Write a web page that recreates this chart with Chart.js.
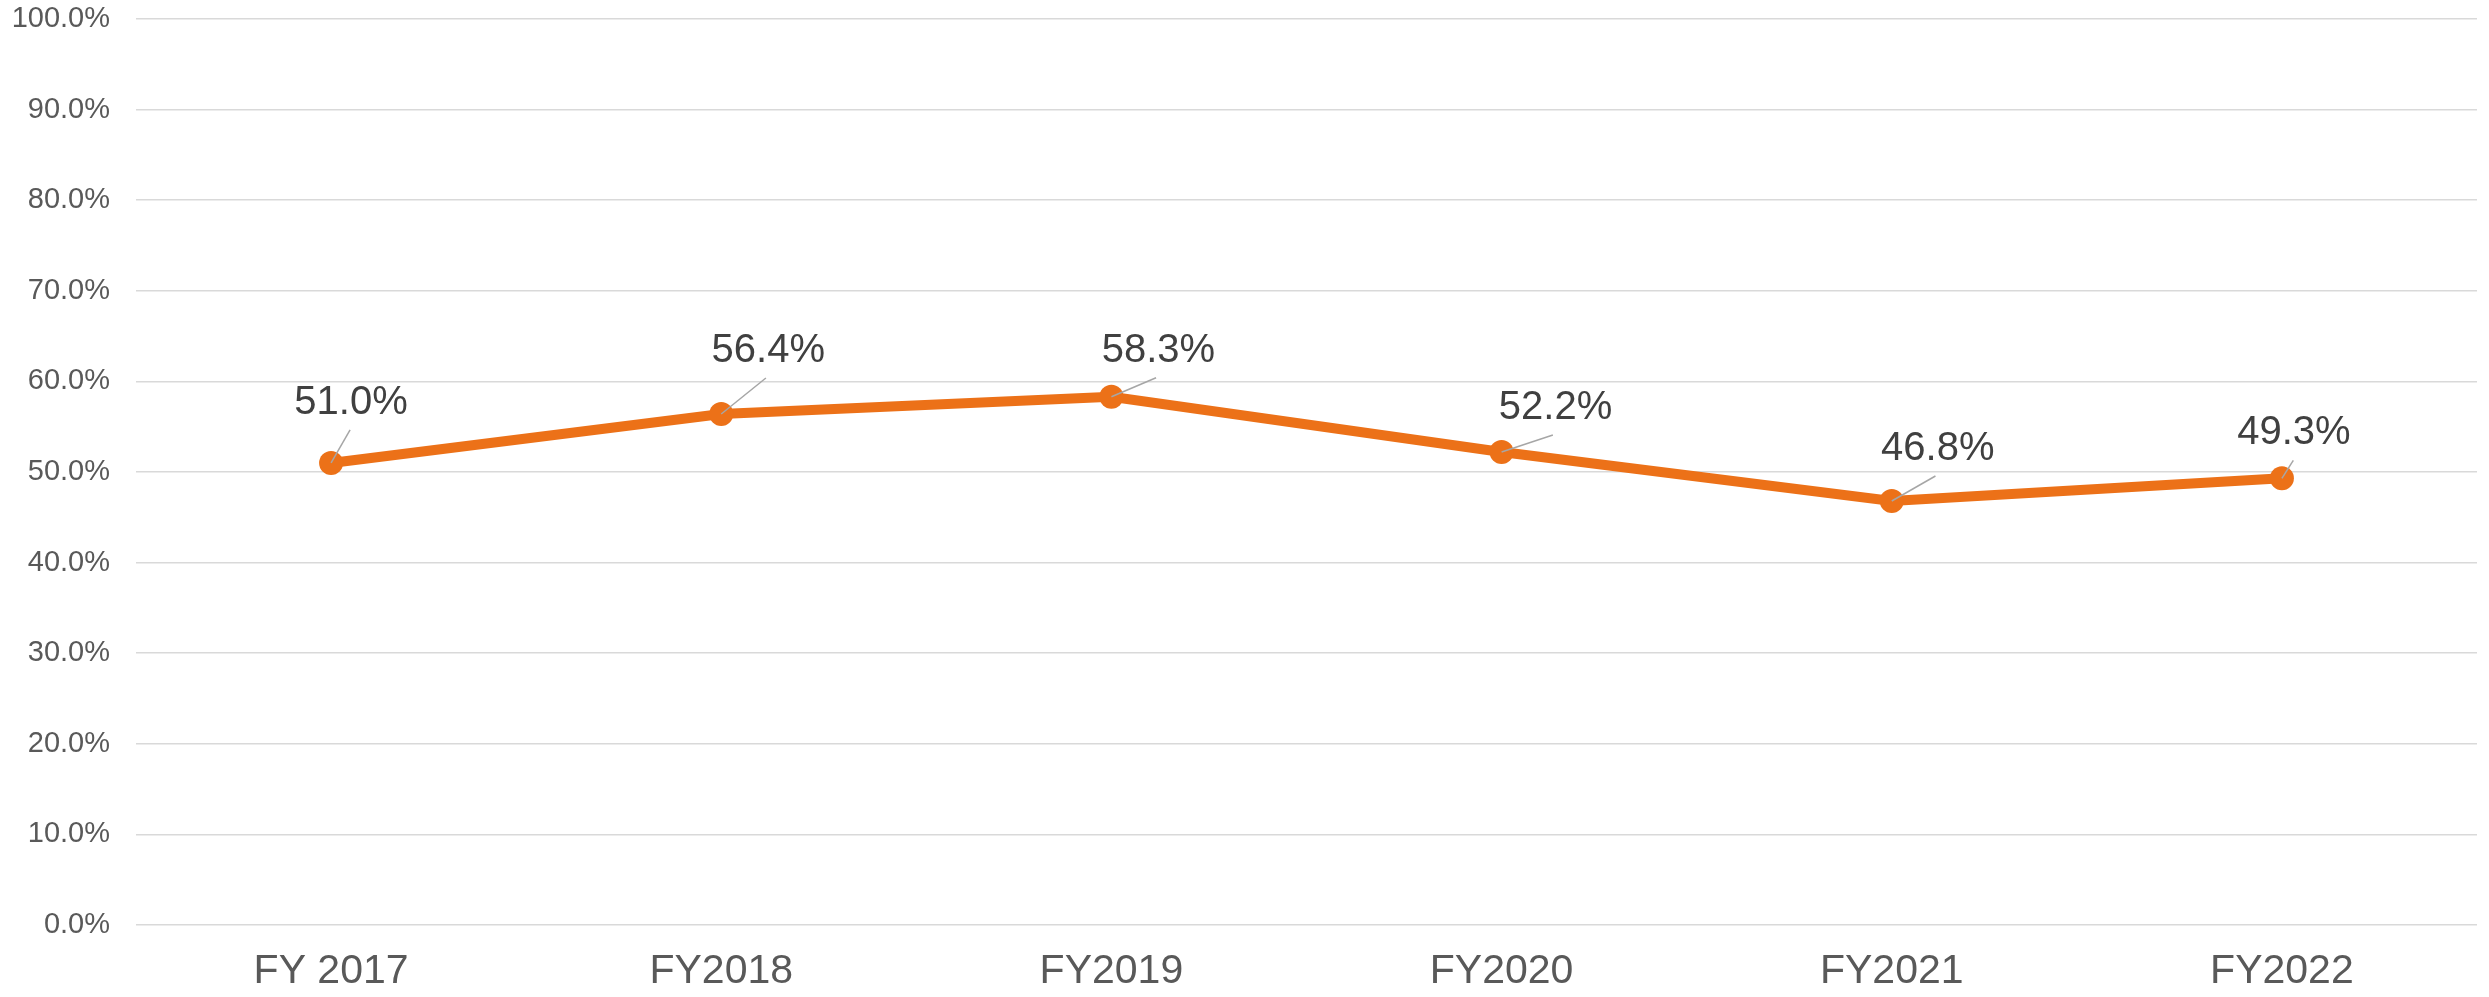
<!DOCTYPE html>
<html>
<head>
<meta charset="utf-8">
<script src="https://cdn.jsdelivr.net/npm/chart.js@4/dist/chart.umd.min.js"></script>
<style>
  html, body { margin: 0; padding: 0; background: #fff; }
  #wrap { width: 2489px; height: 997px; }
</style>
</head>
<body>
<div id="wrap"><canvas id="myChart"></canvas></div>
<script>
// data
const years = ['FY 2017', 'FY2018', 'FY2019', 'FY2020', 'FY2021', 'FY2022'];
const share = [51.0, 56.4, 58.3, 52.2, 46.8, 49.3];
const yTicks = [0, 10, 20, 30, 40, 50, 60, 70, 80, 90, 100];

// where each data label sits relative to its point (px)
const labelOffsets = [[20, -60], [47, -63], [47, -46], [54, -44], [46, -52], [12, -45]];

const FONT = "'Liberation Sans', Arial, sans-serif";
const ctx = document.getElementById('myChart');

const labelPlugin = {
  id: 'pointLabels',
  afterDatasetsDraw(chart) {
    const c = chart.ctx;
    const pts = chart.getDatasetMeta(0).data;
    c.save();
    pts.forEach(function(p, i){
      const off = labelOffsets[i];
      const lx = p.x + off[0], ly = p.y + off[1];
      // leader line
      c.strokeStyle = '#A6A6A6';
      c.lineWidth = 1.5;
      c.beginPath();
      c.moveTo(p.x + off[0] * 0.95, ly + 27);
      c.lineTo(p.x, p.y);
      c.stroke();
      c.fillStyle = '#404040';
      c.font = '40px ' + FONT;
      c.textAlign = 'center';
      c.textBaseline = 'middle';
      c.fillText(share[i].toFixed(1) + '%', lx, ly);
    });
    c.restore();
  }
};

new Chart(ctx, {
  type: 'line',
  data: {
    labels: years,
    datasets: [{
      label: 'share',
      data: share,
      borderColor: '#EC7118',
      backgroundColor: '#EC7118',
      borderWidth: 10,
      pointRadius: 12,
      pointHoverRadius: 12,
      pointBorderWidth: 0,
      tension: 0
    }]
  },
  options: {
    responsive: true,
    maintainAspectRatio: false,
    animation: false,
    layout: { padding: { top: 0, right: 5, left: 0, bottom: 0 } },
    plugins: { legend: { display: false }, tooltip: { enabled: false } },
    scales: {
      x: {
        offset: true,
        grid: { display: false, drawTicks: false },
        border: { display: false },
        ticks: { color: '#595959', font: { family: FONT, size: 41 }, padding: 22 },
        afterFit: function(s){ s.height = 72; }
      },
      y: {
        min: 0,
        max: 100,
        afterBuildTicks: function(s){ s.ticks = yTicks.map(v => ({ value: v })); },
        grid: { color: '#D9D9D9', lineWidth: 1.5, drawTicks: false },
        border: { display: false },
        ticks: {
          color: '#595959',
          font: { family: FONT, size: 29 },
          padding: 26,
          callback: v => v.toFixed(1) + '%'
        },
        afterFit: function(s){ s.width = 136; s.paddingTop = 19; }
      }
    }
  },
  plugins: [labelPlugin]
});
</script>
</body>
</html>
